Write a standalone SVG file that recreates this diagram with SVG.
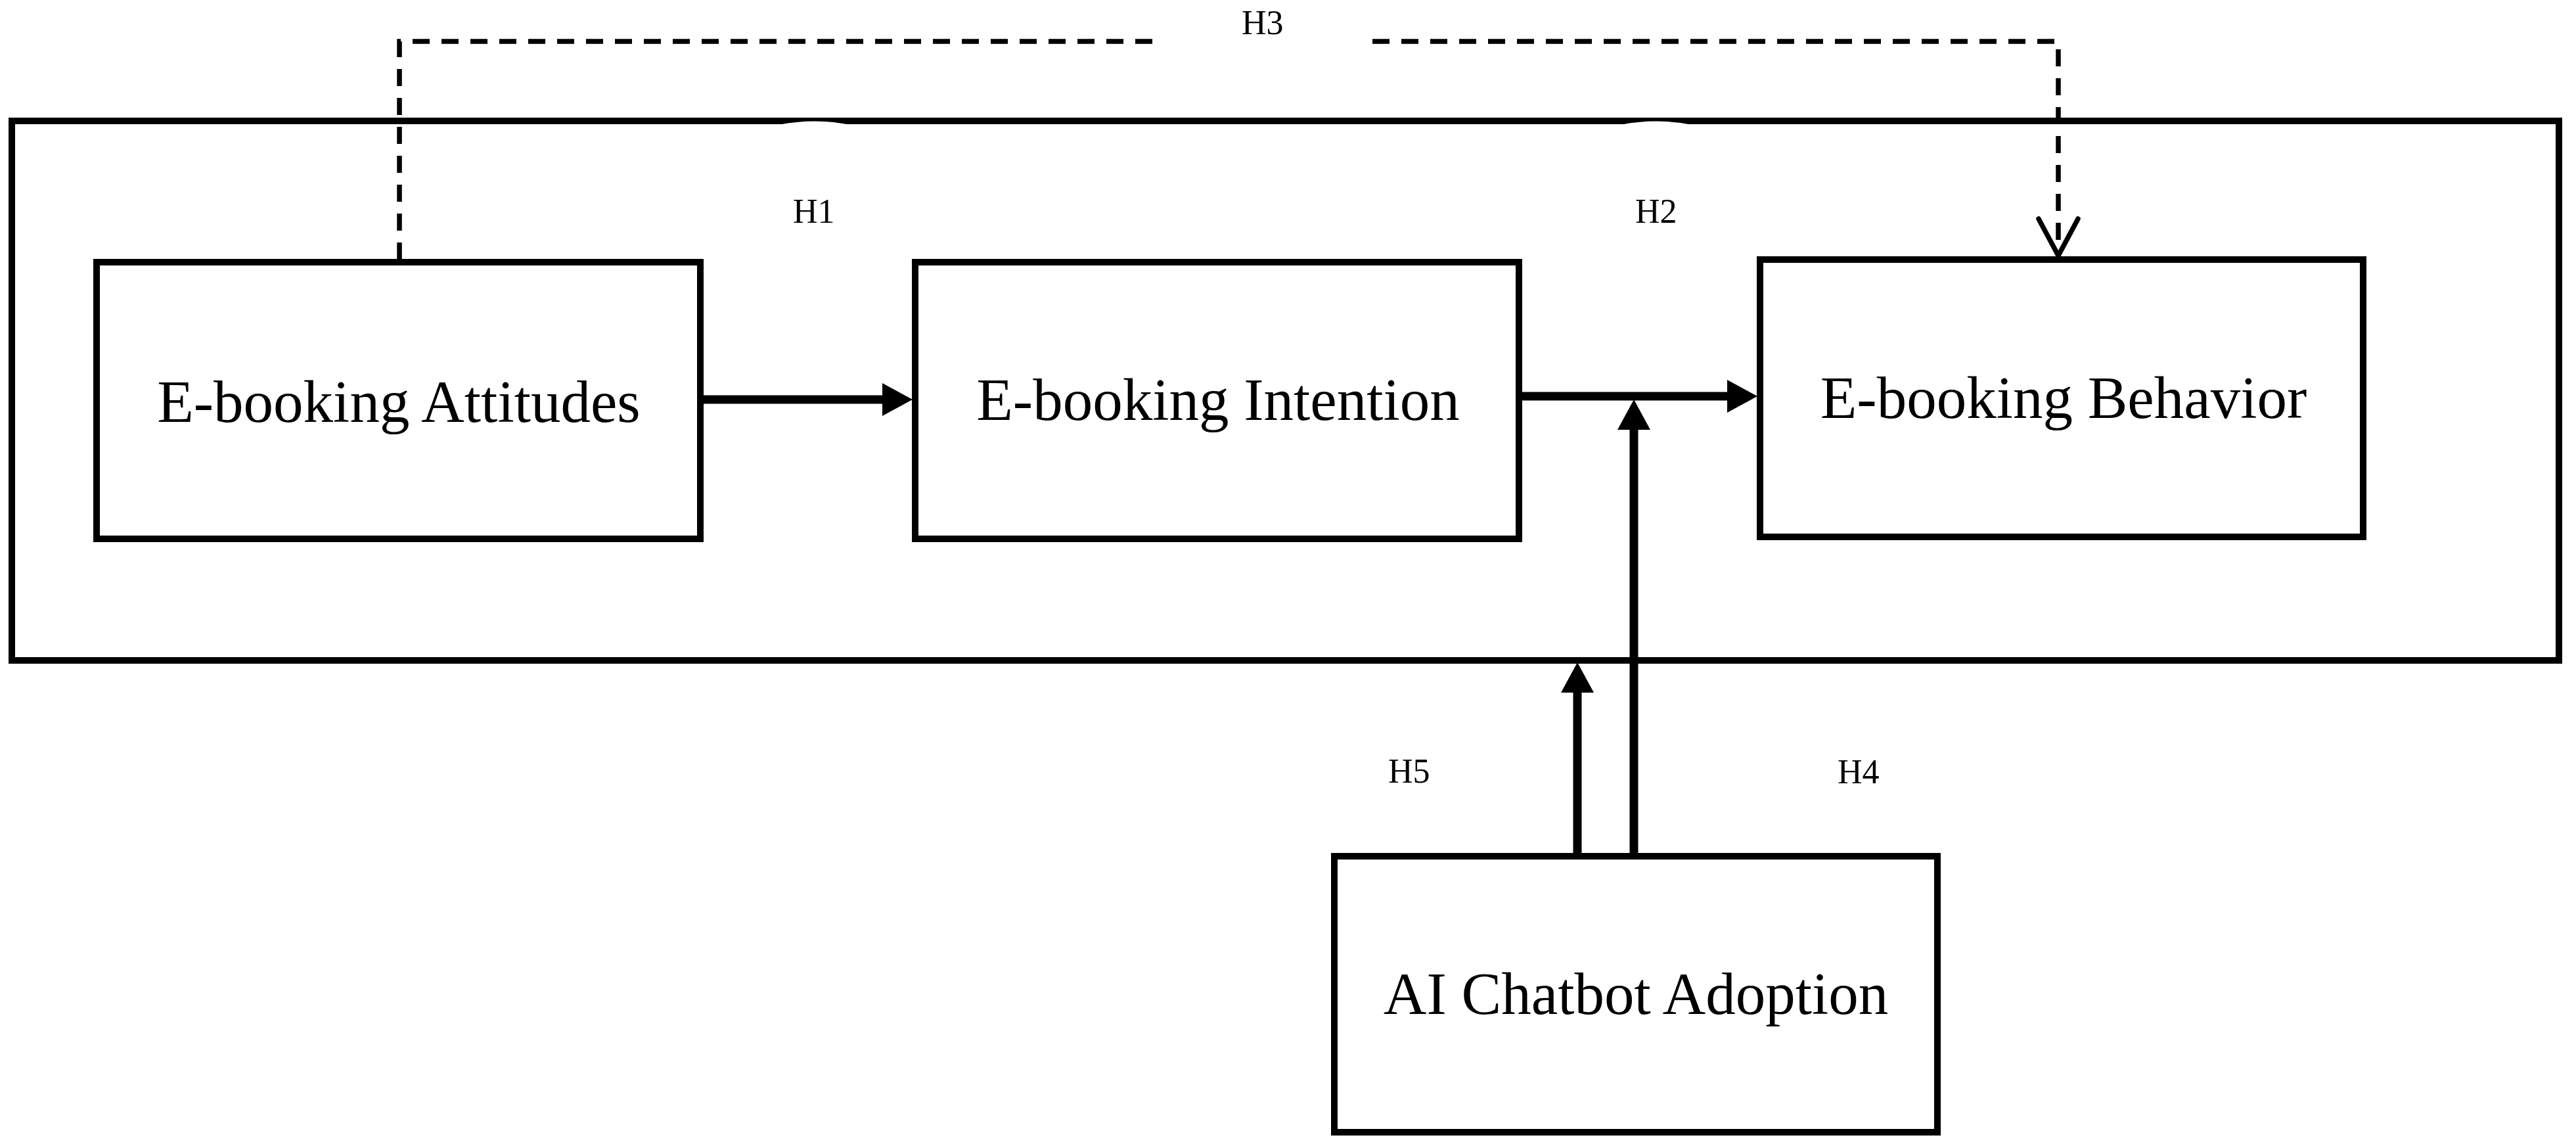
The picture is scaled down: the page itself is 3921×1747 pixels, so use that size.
<svg xmlns="http://www.w3.org/2000/svg" width="3921" height="1747" viewBox="0 0 3921 1747">
  <style>
    .box { fill: #ffffff; stroke: #000000; stroke-width: 10; }
    .frame { fill: none; stroke: #000000; stroke-width: 10; }
    .label { font-family: "Liberation Serif", "Times New Roman", serif; font-size: 91px; fill: #000000; text-anchor: middle; }
    .hyp { font-family: "Liberation Serif", "Times New Roman", serif; font-size: 52px; fill: #000000; }
    .solid { fill: none; stroke: #000000; stroke-width: 13; }
    .dashed { fill: none; stroke: #000000; stroke-width: 7.5; stroke-dasharray: 26 18; }
    .openhead { fill: none; stroke: #000000; stroke-width: 7.5; stroke-linecap: round; stroke-linejoin: round; }
  </style>
  <defs>
    <marker id="solidArrow" markerUnits="userSpaceOnUse" markerWidth="48" markerHeight="52" refX="0" refY="25" orient="auto">
      <path d="M0,0 L46,25 L0,50 Z" fill="#000000"/>
    </marker>
  </defs>
  <rect width="3921" height="1747" fill="#ffffff"/>

  <g id="frame">
    <rect class="frame" x="18" y="184" width="3877" height="821"/>
    <path d="M1185,190 Q1240,179 1295,190 Z" fill="#ffffff"/>
    <path d="M2466,190 Q2521,179 2576,190 Z" fill="#ffffff"/>
  </g>

  <g id="connectors">
    <path class="dashed" d="M608,395 V63 H1764"/>
    <path class="dashed" d="M2089,63 H3133 V389"/>
    <path class="openhead" d="M3103,333 L3133,389 L3163,333"/>
    <line class="solid" x1="1070" y1="608" x2="1343" y2="608" marker-end="url(#solidArrow)"/>
    <line class="solid" x1="2316" y1="603" x2="2629" y2="603" marker-end="url(#solidArrow)"/>
    <line class="solid" x1="2487" y1="1299" x2="2487" y2="654" marker-end="url(#solidArrow)"/>
    <line class="solid" x1="2401" y1="1299" x2="2401" y2="1054" marker-end="url(#solidArrow)"/>
    <text class="hyp" x="1207" y="339">H1</text>
    <text class="hyp" x="2489" y="339">H2</text>
    <text class="hyp" x="1890" y="52">H3</text>
    <text class="hyp" x="2797" y="1192">H4</text>
    <text class="hyp" x="2113" y="1191">H5</text>
  </g>

  <g id="attitudes">
    <rect class="box" x="147" y="399" width="919" height="421"/>
    <text class="label" x="607" y="642">E-booking Attitudes</text>
  </g>
  <g id="intention">
    <rect class="box" x="1393" y="399" width="919" height="421"/>
    <text class="label" x="1854" y="639">E-booking Intention</text>
  </g>
  <g id="behavior">
    <rect class="box" x="2679" y="395" width="918" height="422"/>
    <text class="label" x="3141" y="636">E-booking Behavior</text>
  </g>
  <g id="chatbot">
    <rect class="box" x="2031" y="1303" width="918" height="420"/>
    <text class="label" x="2490" y="1543">AI Chatbot Adoption</text>
  </g>
</svg>
